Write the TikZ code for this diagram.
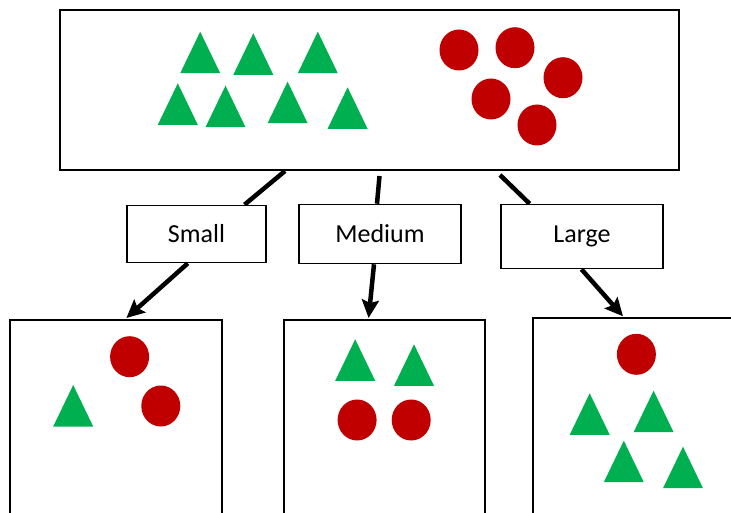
\documentclass[tikz,border=0pt]{standalone}
\usepackage{fontspec}
\setmainfont{Carlito}
\usetikzlibrary{arrows.meta,calc,backgrounds}
\definecolor{shapegreen}{HTML}{00B050}
\definecolor{shapered}{HTML}{C00000}
\tikzset{
  panel/.style={draw=black, line width=2pt, inner sep=0pt},
  tag/.style={draw=black, line width=1.6pt, fill=white, inner sep=0pt,
              font=\fontsize{26}{30}\selectfont},
  link/.style={line width=4.5pt},
  linkarrow/.style={link, -{Stealth[length=18pt,width=17pt,inset=3pt]}},
  tri/.pic={\fill[shapegreen] (0,0) -- (20,41.5) -- (-20,41.5) -- cycle;},
  dot/.pic={\fill[shapered] (0,0) ellipse [x radius=19.5pt, y radius=20.5pt];}
}
\begin{document}
\begin{tikzpicture}[x=1pt,y=-1pt]
  \useasboundingbox (0,0) rectangle (731,513);
  \clip (0,0) rectangle (731,513);

  % mixed collection
  \node[panel, minimum width=619, minimum height=160] (pool) at (369.5,90) {};
  \foreach \p in {(200.2,31.7),(253.3,33.3),(317.8,31.7),(177.8,83.3),
                  (225.5,85.7),(287.6,81.7),(347.6,87.3)}
    \pic at \p {tri};
  \foreach \p in {(459,50),(515,47.7),(563,77.7),(491,99),(537,125)}
    \pic at \p {dot};

  % size categories
  \node[tag, minimum width=139, minimum height=57] (small) at (196.5,234) {Small};
  \node[tag, minimum width=162, minimum height=59] (medium) at (380,234) {Medium};
  \node[tag, minimum width=162, minimum height=64] (large) at (582,236.5) {Large};

  % sorted bins
  \node[panel, anchor=north, minimum width=212, minimum height=250] (binS) at (116.4,319) {};
  \node[panel, anchor=north, minimum width=200.4, minimum height=250] (binM) at (384.6,319) {};
  \node[panel, anchor=north west, minimum width=240, minimum height=250] (binL) at (532.4,317.3) {};

  \pic at (129.6,356.7) {dot};
  \pic at (160.8,406) {dot};
  \pic at (73.2,385) {tri};

  \pic at (355.2,339.3) {tri};
  \pic at (414,344.3) {tri};
  \pic at (357.1,420) {dot};
  \pic at (411.2,420) {dot};

  \pic at (636.4,354.3) {dot};
  \foreach \p in {(589.7,393.3),(653.6,390.7),(623.8,440.7),(683,446.7)}
    \pic at \p {tri};

  % connectors
  \begin{scope}[on background layer]
    \draw[link] ($(pool.south)+(-84.5,0)$) -- ($(small.north)+(48,0)$);
    \draw[link] ($(pool.south)+(10,5)$) -- ($(medium.north)+(-3,0)$);
    \draw[link] ($(pool.south)+(130.5,4)$) -- ($(large.north)+(-52.4,0)$);
  \end{scope}
  \draw[linkarrow] ($(small.south)+(-8.7,0)$) -- ($(binS.north)+(10,-1)$);
  \draw[linkarrow] ($(medium.south)+(-6,0)$) -- ($(binM.north)+(-16,-1)$);
  \draw[linkarrow] ($(large.south)+(-0.5,0)$) -- ($(binL.north west)+(90.6,-1)$);
\end{tikzpicture}
\end{document}
